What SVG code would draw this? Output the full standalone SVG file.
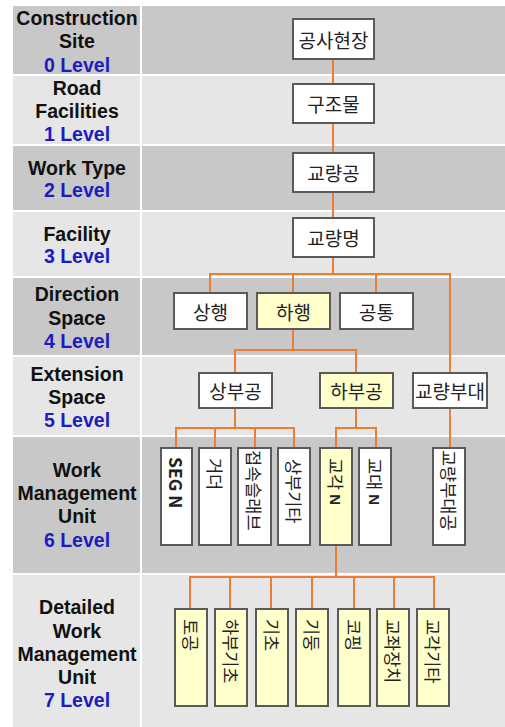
<svg xmlns="http://www.w3.org/2000/svg" width="505" height="727" viewBox="0 0 505 727">
<style>
.dk{fill:#c8c8c8}
.lt{fill:#e6e6e6}
.lbl{font-family:"Liberation Sans","Noto Sans",sans-serif;font-weight:bold;font-size:19.5px;fill:#111;text-anchor:middle}
.lv{fill:#1c1cc4}
.n rect{fill:#fff;stroke:#5a5a5a;stroke-width:2}
.n.y rect{fill:#ffffcc}
.n text{font-family:"Noto Sans CJK KR","Liberation Sans",sans-serif;font-size:19px;fill:#222;text-anchor:middle;dominant-baseline:central}
.n text.v{font-size:17.5px;text-anchor:start}
.b{font-family:"Liberation Sans","Noto Sans CJK KR",sans-serif;font-weight:bold}
#connectors path{fill:none;stroke:#ed7d31;stroke-width:2}
</style>
<rect width="505" height="727" fill="#fff"/>
<g id="background">
<rect class="dk" x="13" y="6" width="127" height="68"/><rect class="dk" x="142" y="6" width="363" height="68"/>
<rect class="lt" x="13" y="76" width="127" height="68"/><rect class="lt" x="142" y="76" width="363" height="68"/>
<rect class="dk" x="13" y="146" width="127" height="64"/><rect class="dk" x="142" y="146" width="363" height="64"/>
<rect class="lt" x="13" y="212" width="127" height="64"/><rect class="lt" x="142" y="212" width="363" height="64"/>
<rect class="dk" x="13" y="278" width="127" height="77"/><rect class="dk" x="142" y="278" width="363" height="77"/>
<rect class="lt" x="13" y="357" width="127" height="78"/><rect class="lt" x="142" y="357" width="363" height="78"/>
<rect class="dk" x="13" y="437" width="127" height="136"/><rect class="dk" x="142" y="437" width="363" height="136"/>
<rect class="lt" x="13" y="575" width="127" height="152"/><rect class="lt" x="142" y="575" width="363" height="152"/>
</g>
<g id="labels">
<text class="lbl" x="77" y="25">Construction</text><text class="lbl" x="77" y="48">Site</text><text class="lbl lv" x="77" y="72">0 Level</text>
<text class="lbl" x="77" y="95">Road</text><text class="lbl" x="77" y="118">Facilities</text><text class="lbl lv" x="77" y="141">1 Level</text>
<text class="lbl" x="77" y="175">Work Type</text><text class="lbl lv" x="77" y="197">2 Level</text>
<text class="lbl" x="77" y="241">Facility</text><text class="lbl lv" x="77" y="263">3 Level</text>
<text class="lbl" x="77" y="301">Direction</text><text class="lbl" x="77" y="325">Space</text><text class="lbl lv" x="77" y="348">4 Level</text>
<text class="lbl" x="77" y="381">Extension</text><text class="lbl" x="77" y="404">Space</text><text class="lbl lv" x="77" y="427">5 Level</text>
<text class="lbl" x="77" y="477">Work</text><text class="lbl" x="77" y="500">Management</text><text class="lbl" x="77" y="523">Unit</text><text class="lbl lv" x="77" y="547">6 Level</text>
<text class="lbl" x="77" y="614">Detailed</text><text class="lbl" x="77" y="638">Work</text><text class="lbl" x="77" y="661">Management</text><text class="lbl" x="77" y="684">Unit</text><text class="lbl lv" x="77" y="707">7 Level</text>
</g>
<g id="connectors">
<path d="M333 59V84M333 123V153M333 192V218"/>
<path d="M333 257V274M210 293V274H450V373M293 274V293M376 274V293"/>
<path d="M293 329V350M235 373V350H356V373"/>
<path d="M235 408V428M176 448V428H294V448M215 428V448M255 428V448"/>
<path d="M356 408V428M336 448V428H376V448"/>
<path d="M450 408V448"/>
<path d="M336 545V577M190 609V577H434V609M230 577V609M271 577V609M312 577V609M354 577V609M394 577V609"/>
</g>
<g id="n-site" class="n"><rect x="293" y="19" width="81" height="40"/><text x="333.5" y="39">공사현장</text></g>
<g id="n-struct" class="n"><rect x="293" y="84" width="81" height="39"/><text x="333.5" y="103.5">구조물</text></g>
<g id="n-bridgework" class="n"><rect x="293" y="153" width="81" height="39"/><text x="333.5" y="172.5">교량공</text></g>
<g id="n-bridgename" class="n"><rect x="293" y="218" width="81" height="39"/><text x="333.5" y="237.5">교량명</text></g>
<g id="n-up" class="n"><rect x="174" y="293" width="73" height="36"/><text x="210.5" y="311">상행</text></g>
<g id="n-down" class="n y"><rect x="257" y="293" width="73" height="36"/><text x="293.5" y="311">하행</text></g>
<g id="n-common" class="n"><rect x="340" y="293" width="73" height="36"/><text x="376.5" y="311">공통</text></g>
<g id="n-super" class="n"><rect x="199" y="373" width="73" height="35"/><text x="235.5" y="390.5">상부공</text></g>
<g id="n-sub" class="n y"><rect x="320" y="373" width="73" height="35"/><text x="356.5" y="390.5">하부공</text></g>
<g id="n-acc" class="n"><rect x="413" y="373" width="74" height="35"/><text x="450" y="390.5" font-size="18">교량부대</text></g>
<g id="n-seg" class="n"><rect x="161" y="448" width="31" height="97"/><text class="v b" x="176.5" y="457" font-size="15" transform="rotate(90 176.5 457)">SEG N</text></g>
<g id="n-girder" class="n"><rect x="199" y="448" width="32" height="97"/><text class="v" x="215" y="458" transform="rotate(90 215 458)">거더</text></g>
<g id="n-slab" class="n"><rect x="238" y="448" width="33" height="97"/><text class="v" x="254.5" y="450" transform="rotate(90 254.5 450)">접속슬래브</text></g>
<g id="n-superetc" class="n"><rect x="278" y="448" width="32" height="97"/><text class="v" x="294" y="459" transform="rotate(90 294 459)">상부기타</text></g>
<g id="n-pier" class="n y"><rect x="320" y="448" width="32" height="97"/><text class="v" x="336" y="458" transform="rotate(90 336 458)">교각 <tspan class="b" font-size="15">N</tspan></text></g>
<g id="n-abut" class="n"><rect x="359" y="448" width="32" height="97"/><text class="v" x="375" y="458" transform="rotate(90 375 458)">교대 <tspan class="b" font-size="15">N</tspan></text></g>
<g id="n-accwork" class="n"><rect x="433" y="448" width="32" height="97"/><text class="v" x="449" y="450" transform="rotate(90 449 450)">교량부대공</text></g>
<g id="n-earth" class="n y"><rect x="175" y="609" width="32" height="97"/><text class="v" x="191" y="619" transform="rotate(90 191 619)">토공</text></g>
<g id="n-subfound" class="n y"><rect x="215" y="609" width="32" height="97"/><text class="v" x="231" y="619" transform="rotate(90 231 619)">하부기초</text></g>
<g id="n-found" class="n y"><rect x="256" y="609" width="32" height="97"/><text class="v" x="272" y="619" transform="rotate(90 272 619)">기초</text></g>
<g id="n-column" class="n y"><rect x="296" y="609" width="32" height="97"/><text class="v" x="312" y="619" transform="rotate(90 312 619)">기둥</text></g>
<g id="n-coping" class="n y"><rect x="338" y="609" width="32" height="97"/><text class="v" x="354" y="619" transform="rotate(90 354 619)">코핑</text></g>
<g id="n-bearing" class="n y"><rect x="377" y="609" width="32" height="97"/><text class="v" x="393" y="619" transform="rotate(90 393 619)">교좌장치</text></g>
<g id="n-pieretc" class="n y"><rect x="417" y="609" width="32" height="97"/><text class="v" x="433" y="619" transform="rotate(90 433 619)">교각기타</text></g>
</svg>
